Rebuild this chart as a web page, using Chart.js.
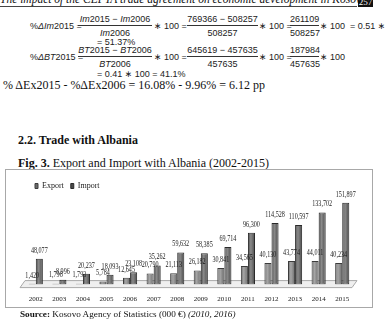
<!DOCTYPE html>
<html>
<head>
<meta charset="utf-8">
<script src="https://cdn.jsdelivr.net/npm/chart.js@4"></script>
<style>
  html, body { margin: 0; padding: 0; background: #fff; }
  body { width: 386px; height: 322px; position: relative; overflow: hidden;
         font-family: "Liberation Serif", "DejaVu Serif", serif; color: #111; }
  .t { position: absolute; white-space: nowrap; }
  .eq { font-family: "Liberation Sans", "DejaVu Sans", sans-serif; font-size: 9px; color: #222; line-height: 10px; }
  .frac { position: absolute; text-align: center; white-space: nowrap;
          font-family: "Liberation Sans", "DejaVu Sans", sans-serif;
          font-size: 9px; color: #222; line-height: 10px; }
  .frac .num { border-bottom: 1px solid #333; padding-bottom: 1px; }
  .frac .den { padding-top: 2px; }
  #box { position: absolute; left: 5px; top: 169px; width: 368px; height: 139px;
         border: 1px solid #a8a8a8; box-sizing: border-box; }
  #chart { position: absolute; left: 0; top: 0; }
</style>
</head>
<body>
<!-- running header, cut off at the top of the scan -->
<div class="t" style="left:0; top:-7px; font-size:11.5px; font-style:italic; line-height:12px;">The impact of the CEFTA trade agreement on economic development in Kosovo</div>
<div class="t" style="left:0; top:6px; width:357px; height:1px; background:#444;"></div>
<div class="t" style="left:358px; top:0; width:15px; height:7px; background:#111; color:#fff; font-size:9px; line-height:4px; text-align:center; overflow:hidden;">257</div>

<!-- equations -->
<div class="t eq" style="left:30px; top:21px;">%<i>ΔIm</i>2015 =</div>
<div class="frac" style="left:78px; top:14px; width:74px;"><div class="num"><i>Im</i>2015 − <i>Im</i>2006</div><div class="den"><i>Im</i>2006</div></div>
<div class="t eq" style="left:154px; top:21px;">∗ 100 =</div>
<div class="frac" style="left:187px; top:14px; width:71px;"><div class="num">769366 − 508257</div><div class="den">508257</div></div>
<div class="t eq" style="left:259px; top:21px;">∗ 100 =</div>
<div class="frac" style="left:290px; top:14px; width:29px;"><div class="num">261109</div><div class="den">508257</div></div>
<div class="t eq" style="left:320px; top:21px;">∗ 100 &nbsp;= 0.51 ∗</div>
<div class="t eq" style="left:97px; top:37px;">= 51.37%</div>

<div class="t eq" style="left:30px; top:52px;">%<i>ΔBT</i>2015 =</div>
<div class="frac" style="left:78px; top:45px; width:74px;"><div class="num"><i>BT</i>2015 − <i>BT</i>2006</div><div class="den"><i>BT</i>2006</div></div>
<div class="t eq" style="left:154px; top:52px;">∗ 100 =</div>
<div class="frac" style="left:187px; top:45px; width:71px;"><div class="num">645619 − 457635</div><div class="den">457635</div></div>
<div class="t eq" style="left:259px; top:52px;">∗ 100 =</div>
<div class="frac" style="left:290px; top:45px; width:29px;"><div class="num">187984</div><div class="den">457635</div></div>
<div class="t eq" style="left:320px; top:52px;">∗ 100</div>
<div class="t eq" style="left:97px; top:69px;">= 0.41 ∗ 100 = 41.1%</div>

<div class="t" style="left:3px; top:78px; font-size:12px; line-height:14px;">% ΔEx2015 - %ΔEx2006 = 16.08% - 9.96% = 6.12 pp</div>

<div class="t" style="left:18px; top:133px; font-size:12px; font-weight:bold; line-height:14px;">2.2. Trade with Albania</div>
<div class="t" style="left:18px; top:156px; font-size:12px; line-height:14px;"><b>Fig. 3.</b> Export and Import with Albania (2002-2015)</div>

<div id="box"><canvas id="chart" width="366" height="143"></canvas></div>

<div class="t" style="left:20px; top:308px; font-size:9.2px; line-height:12px;"><b>Source:</b> Kosovo Agency of Statistics (000 €) <i>(2010, 2016)</i></div>

<script>
const years = ["2002", "2003", "2004", "2005", "2006", "2007", "2008",
               "2009", "2010", "2011", "2012", "2013", "2014", "2015"];
const exportValues = [1420, 1798, 1793, 5784, 12645, 20790, 21113,
                      26182, 30841, 34565, 40130, 43774, 44011, 40234];
const importValues = [48077, 8996, 20237, 18093, 23108, 35262, 59632,
                      58385, 69714, 96300, 114528, 110597, 133702, 151897];

const chartFont = '"Liberation Serif", "DejaVu Serif", serif';

// shade each bar left-to-right so it reads like the rounded bars of the original
function cylinder(c, base, light, dark) {
  const chart = c.chart;
  const xs = chart.scales.x;
  if (!xs || !chart.chartArea || c.dataIndex === undefined) return base;
  const w = (chart.chartArea.right - chart.chartArea.left) / years.length * 0.6 / 2;
  const x0 = xs.getPixelForValue(c.dataIndex) + (c.datasetIndex === 0 ? -w : 0);
  const g = chart.ctx.createLinearGradient(x0, 0, x0 + w, 0);
  g.addColorStop(0, dark);
  g.addColorStop(0.4, light);
  g.addColorStop(1, dark);
  return g;
}

// light 3D floor under the bars
const floorPlugin = {
  id: "floor",
  afterLayout(chart) {
    // nudge the legend a little to the right, as in the original
    chart.legend.left += 4;
    chart.legend.right += 4;
  },
  beforeDatasetsDraw(chart) {
    const { ctx, chartArea } = chart;
    const b = chartArea.bottom;
    ctx.save();
    ctx.beginPath();
    ctx.moveTo(chartArea.left - 4, b + 3);
    ctx.lineTo(chartArea.left + 1, b - 4);
    ctx.lineTo(chartArea.right + 3, b - 4);
    ctx.lineTo(chartArea.right - 2, b + 3);
    ctx.closePath();
    ctx.fillStyle = "#efefef";
    ctx.fill();
    ctx.strokeStyle = "#a9a9a9";
    ctx.lineWidth = 1;
    ctx.stroke();
    ctx.restore();
  }
};

// value labels above each bar, squeezed sideways like the narrow font of the original
const valueLabels = {
  id: "valueLabels",
  afterDatasetsDraw(chart) {
    const ctx = chart.ctx;
    chart.data.datasets.forEach((ds, i) => {
      chart.getDatasetMeta(i).data.forEach((bar, j) => {
        ctx.save();
        ctx.translate(bar.x, bar.y - 4);
        ctx.scale(0.68, 1);
        ctx.font = "9px " + chartFont;
        ctx.fillStyle = "#1a1a1a";
        ctx.textAlign = "center";
        ctx.textBaseline = "bottom";
        ctx.fillText(ds.data[j].toLocaleString("en-US"), 0, 0);
        ctx.restore();
      });
    });
  }
};

Chart.defaults.font.family = chartFont;
Chart.defaults.color = "#1a1a1a";

new Chart(document.getElementById("chart").getContext("2d"), {
  type: "bar",
  data: {
    labels: years,
    datasets: [
      {
        label: "Export",
        data: exportValues,
        backgroundColor: c => cylinder(c, "#7c7c7c", "#a6a6a6", "#6a6a6a"),
        borderColor: "#3c3c3c",
        borderWidth: 1,
        borderSkipped: false
      },
      {
        label: "Import",
        data: importValues,
        backgroundColor: c => cylinder(c, "#5e5e5e", "#8a8a8a", "#4a4a4a"),
        borderColor: "#2a2a2a",
        borderWidth: 1,
        borderSkipped: false
      }
    ]
  },
  options: {
    responsive: false,
    animation: false,
    layout: { padding: { left: 18, right: 18, top: 5, bottom: 0 } },
    datasets: { bar: { categoryPercentage: 0.6, barPercentage: 1.0 } },
    plugins: {
      legend: {
        position: "top",
        align: "start",
        labels: { boxWidth: 3, boxHeight: 5, padding: 7, font: { size: 8 }, color: "#1a1a1a" }
      },
      tooltip: { enabled: false }
    },
    scales: {
      x: {
        grid: { display: false, drawTicks: false },
        border: { display: false },
        ticks: { font: { size: 7 }, padding: 10, maxRotation: 0, autoSkip: false }
      },
      y: { display: false, min: 0, max: 157000 }
    }
  },
  plugins: [floorPlugin, valueLabels]
});
</script>
</body>
</html>
